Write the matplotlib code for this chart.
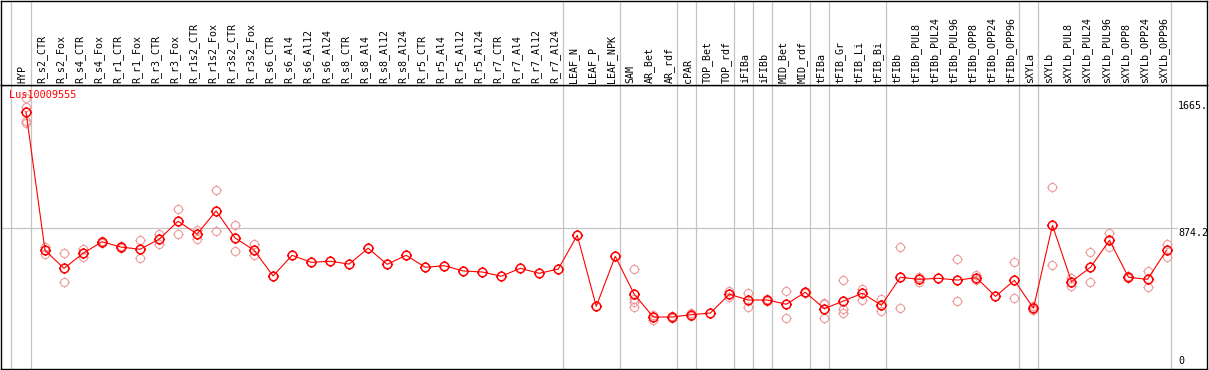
import matplotlib
matplotlib.use('Agg')
import matplotlib.pyplot as plt
from matplotlib.path import Path
import numpy as np

gene = 'Lus10009555'

samples = ['HYP',
           'R_s2_CTR', 'R_s2_Fox', 'R_s4_CTR', 'R_s4_Fox', 'R_r1_CTR', 'R_r1_Fox',
           'R_r3_CTR', 'R_r3_Fox', 'R_r1s2_CTR', 'R_r1s2_Fox', 'R_r3s2_CTR', 'R_r3s2_Fox',
           'R_s6_CTR', 'R_s6_Al4', 'R_s6_Al12', 'R_s6_Al24',
           'R_s8_CTR', 'R_s8_Al4', 'R_s8_Al12', 'R_s8_Al24',
           'R_r5_CTR', 'R_r5_Al4', 'R_r5_Al12', 'R_r5_Al24',
           'R_r7_CTR', 'R_r7_Al4', 'R_r7_Al12', 'R_r7_Al24',
           'LEAF_N', 'LEAF_P', 'LEAF_NPK',
           'SAM', 'AR_Bet', 'AR_rdf', 'cPAR', 'TOP_Bet', 'TOP_rdf',
           'iFIBa', 'iFIBb', 'MID_Bet', 'MID_rdf',
           'tFIBa', 'tFIB_Gr', 'tFIB_Li', 'tFIB_Bi',
           'tFIBb', 'tFIBb_PUL8', 'tFIBb_PUL24', 'tFIBb_PUL96', 'tFIBb_OPP8', 'tFIBb_OPP24', 'tFIBb_OPP96',
           'sXYLa',
           'sXYLb', 'sXYLb_PUL8', 'sXYLb_PUL24', 'sXYLb_PUL96', 'sXYLb_OPP8', 'sXYLb_OPP24', 'sXYLb_OPP96']

# samples per group (grey separators after each group)
groups = [1, 28, 3, 3, 1, 2, 1, 1, 2, 1, 3, 7, 1, 7]

means = [1665,
         722, 599, 701, 780, 744, 729, 797, 920, 833, 990, 806, 722,
         547, 688, 640, 647, 628, 736, 626, 688, 606, 617, 581, 574,
         545, 599, 565, 594,
         824, 340, 681,
         422, 267, 267, 283, 294, 422,
         383, 383, 354, 436,
         324, 376, 429, 347,
         538, 524, 531, 519, 535, 408, 517,
         327,
         892, 508, 606, 790, 538, 524, 722]

reps = [[1758, 1701, 1603, 1588],
        [746, 697], [703, 504], [733, 678], [787, 774], [751, 737], [790, 667],
        [831, 765], [1001, 835], [858, 801], [1131, 851], [892, 715], [763, 690],
        [], [], [], [], [], [], [], [], [], [], [], [], [], [], [], [],
        [], [], [],
        [592, 390, 369, 333], [281, 247], [274, 260], [292, 274], [], [446, 401],
        [429, 337], [388, 378], [442, 260], [440, 431],
        [361, 356, 258], [519, 324, 297], [460, 381], [388, 310],
        [742, 327], [542, 508], [], [661, 374], [553, 519], [], [640, 395],
        [342, 315],
        [1155, 620], [531, 479], [712, 504], [838, 742], [547, 530], [579, 470], [763, 678]]

axis_labels = ['1665.', '874.2', '0']
axis_values = [1665, 874.2, 0]

W, H = 1209, 370
RED = '#ff0000'
PINK = '#ef9c9c'
GREY = '#c4c4c4'
FONT = 'DejaVu Sans Mono'

fig = plt.figure(figsize=(W / 100, H / 100), dpi=100)
ax = fig.add_axes([1 / W, 1 - 369 / H, 1206 / W, 284 / H])
hx = fig.add_axes([1 / W, 1 - 85 / H, 1206 / W, 84.5 / H], sharex=ax)

x = np.arange(len(samples))
ax.set_xlim(-1.315, 62.13)
ax.set_ylim(-87.3, 1848.7)
hx.set_ylim(0, 1)

for a in (ax, hx):
    a.set_xticks([])
    a.set_yticks([])
    for s in a.spines.values():
        s.set_color('black')
        s.set_linewidth(1.0)

# group separators
ends = [-1] + list(np.cumsum(groups) - 1)
for e in ends:
    ax.axvline(e + 0.237, color=GREY, lw=0.9, zorder=0)
    hx.axvline(e + 0.237, color=GREY, lw=0.9, zorder=0)

ax.axhline(axis_values[1], xmin=0, xmax=0.975, color=GREY, lw=0.9, zorder=0)

# marker: open circle with small ticks
circ = Path.unit_circle()
ticks = Path([(0, 1), (0, 1.3), (0, -1), (0, -1.3), (1, 0), (1.3, 0), (-1, 0), (-1.3, 0)],
             [Path.MOVETO, Path.LINETO] * 4)
mk = Path.make_compound_path(circ, ticks)

for i, r in enumerate(reps):
    if r:
        ax.plot([i] * len(r), r, linestyle='none', marker=mk, markersize=7.6,
                markerfacecolor='none', markeredgecolor=PINK, markeredgewidth=0.8, zorder=2)

ax.plot(x, means, color=RED, lw=0.8, zorder=3)
ax.plot(x, means, linestyle='none', marker=mk, markersize=8,
        markerfacecolor='none', markeredgecolor=RED, markeredgewidth=1.1, zorder=4)

# sample labels
for i, s in enumerate(samples):
    hx.text(i - 0.18, 0.025, s, rotation=90, ha='center', va='bottom',
            family=FONT, fontsize=7.2, color='black')

ax.annotate(gene, xy=(0, 1), xycoords='axes fraction', xytext=(8, -5),
            textcoords='offset pixels', ha='left', va='top',
            family=FONT, fontsize=7.3, color=RED, zorder=5)

offs = [11, 0, 0]
for lab, v, o in zip(axis_labels, axis_values, offs):
    ax.annotate(lab, xy=(0.976, v), xycoords=('axes fraction', 'data'), xytext=(0, o),
                textcoords='offset pixels', ha='left', va='top',
                family=FONT, fontsize=7.2, color='black')

fig.savefig('out.png', dpi=100)
